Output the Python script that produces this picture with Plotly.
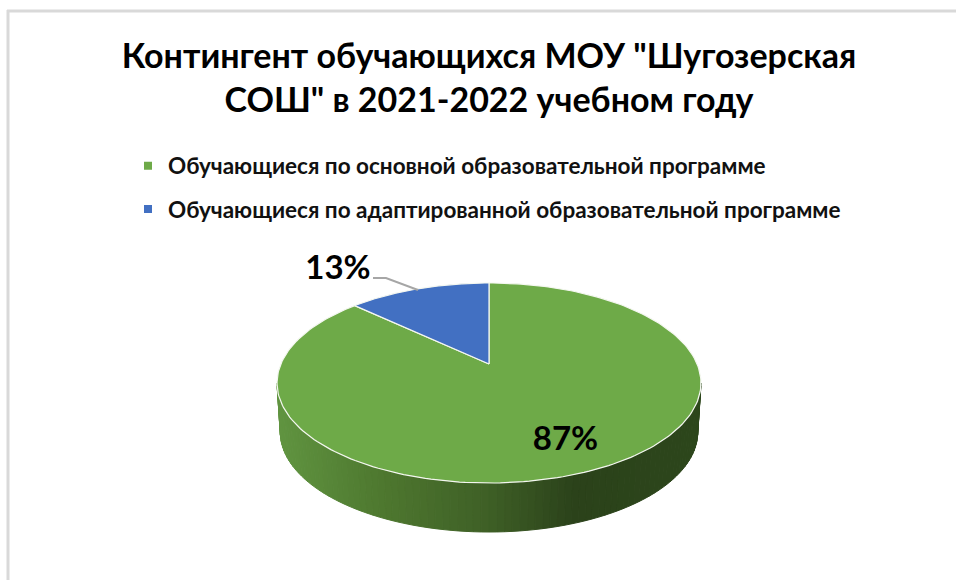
import math
import plotly.graph_objects as go

# ---- data ----
categories = ["Обучающиеся по основной образовательной программе",
              "Обучающиеся по адаптированной образовательной программе"]
values = [87, 13]
title_lines = ['Контингент обучающихся МОУ "Шугозерская', 'СОШ" в 2021-2022 учебном году']

# ---- style ----
slice_colors = ["#6EAA48", "#4270C2"]
FONT = "Lato, 'Open Sans', sans-serif"
W, H = 956, 580
CX, CY = 489, 364      # apex of the pie on the page
A, B, K = 208.1, 96.4, 0.19  # perspective projection of the pie's disc
DEPTH = 49


def project(theta, depth=0.0, shrink=1.0):
    """Clockwise angle from 12 o'clock -> page position on the tilted disc."""
    u, v = math.sin(theta), math.cos(theta)
    w = 1 + K * v
    return CX + shrink * A * u / w, CY - B * v / w + depth


def arc(t0, t1, n, depth=0.0, shrink=1.0):
    pts = [project(t0 + (t1 - t0) * i / n, depth, shrink) for i in range(n + 1)]
    return [p[0] for p in pts], [p[1] for p in pts]


def mix(stops, x):
    for (x0, c0), (x1, c1) in zip(stops, stops[1:]):
        if x <= x1:
            f = max(0, (x - x0) / (x1 - x0))
            return "rgb(%d,%d,%d)" % tuple(round(a + (b - a) * f) for a, b in zip(c0, c1))
    return "rgb(%d,%d,%d)" % stops[-1][1]


wall_stops = [(278, (96, 148, 64)), (380, (78, 120, 47)), (489, (62, 95, 38)),
              (575, (43, 66, 26)), (698, (44, 70, 27))]

fig = go.Figure()

# side wall, only the near half of the rim is visible
t_left = 2 * math.pi - (math.pi - math.asin(math.sqrt(1 - K * K)))
t_right = math.pi - math.asin(math.sqrt(1 - K * K))
n_strips = 90
for i in range(n_strips):
    t0 = t_left + (t_right - t_left) * i / n_strips
    t1 = t_left + (t_right - t_left) * (i + 1) / n_strips
    xt, yt = arc(t0, t1, 3)
    xb, yb = arc(t1, t0, 3, DEPTH, 0.985)
    xs = xt + xb + [xt[0]]
    ys = yt + yb + [yt[0]]
    col = mix(wall_stops, (xt[0] + xt[-1]) / 2)
    fig.add_trace(go.Scatter(x=xs, y=ys, mode="lines", fill="toself", fillcolor=col,
                             line=dict(color=col, width=1), hoverinfo="skip", showlegend=False))

# top face slices, clockwise from 12 o'clock
total = sum(values)
start = 0.0
for cat, val, col in zip(categories, values, slice_colors):
    end = start + 2 * math.pi * val / total
    xa, ya = arc(start, end, 240)
    fig.add_trace(go.Scatter(x=[CX] + xa + [CX], y=[CY] + ya + [CY], mode="lines", fill="toself",
                             fillcolor=col, line=dict(color="#f4f7f0", width=1.2),
                             name=cat, text=f"{val}%", hoverinfo="name+text", showlegend=False))
    start = end

# legend entries
for cat, col in zip(categories, slice_colors):
    fig.add_trace(go.Scatter(x=[None], y=[None], mode="markers", name=cat, legendgroup=cat,
                             marker=dict(symbol="square", size=8, color=col)))

# leader line of the small slice
fig.add_trace(go.Scatter(x=[373, 386, 418], y=[278, 278, 290], mode="lines",
                         line=dict(color="#a6a6a6", width=2), hoverinfo="skip", showlegend=False))

# data labels
label_pos = [(565.5, 442), (338, 271)]
fig.add_trace(go.Scatter(x=[p[0] for p in label_pos], y=[p[1] for p in label_pos], mode="text",
                         text=[f"{v}%" for v in values], textposition="middle center",
                         textfont=dict(family=FONT, size=33, color="#000000", weight="bold"),
                         hoverinfo="skip", showlegend=False))

fig.update_layout(
    width=W, height=H, margin=dict(l=0, r=0, t=0, b=0),
    paper_bgcolor="#ffffff", plot_bgcolor="#ffffff",
    title=dict(text="<br>".join(title_lines), x=489 / W, xanchor="center", y=1 - 68 / H, yanchor="top",
               font=dict(family=FONT, size=34, color="#000000", weight="bold")),
    xaxis=dict(range=[0, W], visible=False, fixedrange=True),
    yaxis=dict(range=[H, 0], visible=False, fixedrange=True),
    legend=dict(x=128 / W, y=1 - 144.5 / H, xanchor="left", yanchor="top", tracegroupgap=11,
                bgcolor="rgba(0,0,0,0)",
                font=dict(family=FONT, size=22.5, color="#111111", weight="bold")),
    shapes=[
        dict(type="line", xref="paper", yref="paper", x0=8 / W, x1=8 / W, y0=0, y1=1 - 10 / H,
             line=dict(color="#d9d9d9", width=3)),
        dict(type="line", xref="paper", yref="paper", x0=7 / W, x1=1, y0=1 - 11 / H, y1=1 - 11 / H,
             line=dict(color="#d9d9d9", width=3)),
    ],
    showlegend=True,
)

fig.write_html("out.html", config=dict(displayModeBar=False),
               post_script="document.body.style.margin='0';")
